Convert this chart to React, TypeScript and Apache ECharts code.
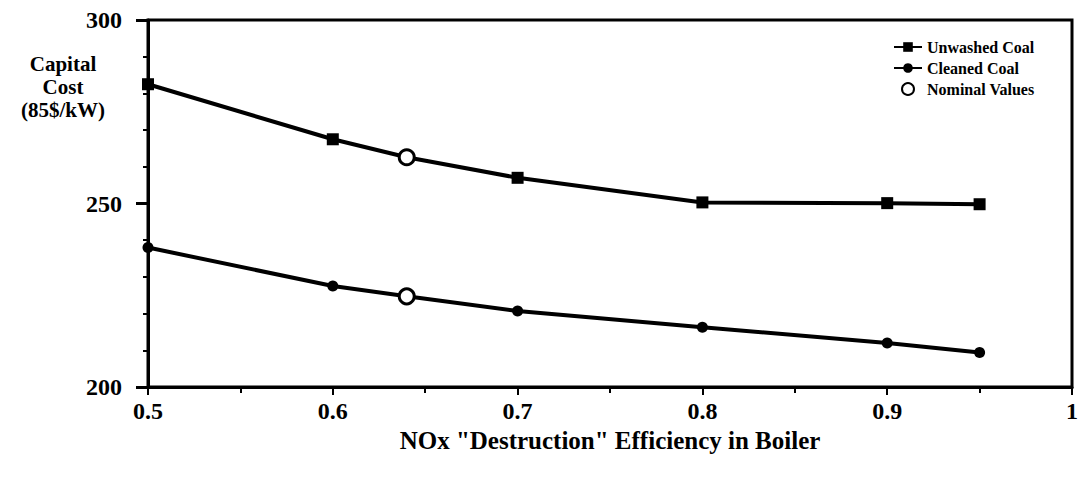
import React, { useEffect, useRef } from "react";
import * as echarts from "echarts";

const efficiency = [0.5, 0.6, 0.64, 0.7, 0.8, 0.9, 0.95];
const unwashedCoal = [282.5, 267.5, 262.6, 257, 250.3, 250.1, 249.8];
const cleanedCoal = [238, 227.5, 224.7, 220.7, 216.3, 212, 209.4];
const nominalX = [0.64, 0.64];
const nominalY = [262.6, 224.7];
const yTicks = [200, 250, 300];
const xName = 'NOx "Destruction" Efficiency in Boiler';
const yName = "Capital\nCost\n(85$/kW)";

const FONT = "'Liberation Serif', 'DejaVu Serif', serif";

export default function App() {
  const ref = useRef<HTMLDivElement>(null);
  useEffect(() => {
    if (!ref.current) return;
    const chart = echarts.init(ref.current, undefined, { renderer: "svg" });
    const mk = (ys: number[]) =>
      efficiency.map((x, i) => ({
        value: [x, ys[i]],
        symbol: x === 0.64 ? "none" : undefined,
      }));
    chart.setOption({
      animation: false,
      backgroundColor: "#ffffff",
      textStyle: { fontFamily: FONT },
      grid: {
        left: 148,
        right: 8,
        top: 20,
        bottom: 93,
        show: true,
        borderColor: "#000",
        borderWidth: 3,
      },
      legend: {
        orient: "vertical",
        left: 888,
        top: 34,
        itemWidth: 28,
        itemHeight: 12,
        itemGap: 5,
        textStyle: {
          fontFamily: FONT,
          fontWeight: "bold",
          fontSize: 16,
          color: "#000",
        },
        data: ["Unwashed Coal", "Cleaned Coal", "Nominal Values"],
      },
      xAxis: {
        type: "value",
        min: 0.5,
        max: 1,
        interval: 0.1,
        name: xName,
        nameLocation: "middle",
        nameGap: 37,
        nameTextStyle: {
          fontFamily: FONT,
          fontWeight: "bold",
          fontSize: 25,
          color: "#000",
        },
        axisLine: { lineStyle: { color: "#000", width: 3 } },
        axisTick: { show: true, length: 8, lineStyle: { color: "#000", width: 2 } },
        minorTick: { show: true, splitNumber: 2, length: 6, lineStyle: { color: "#000", width: 2 } },
        splitLine: { show: false },
        axisLabel: {
          fontFamily: FONT,
          fontWeight: "bold",
          fontSize: 24,
          color: "#000",
          margin: 12,
          formatter: (v: number) => (Math.abs(v - 1) < 1e-9 ? "1" : v.toFixed(1)),
        },
      },
      yAxis: {
        type: "value",
        min: yTicks[0],
        max: yTicks[yTicks.length - 1],
        interval: 50,
        axisLine: { show: true, lineStyle: { color: "#000", width: 3 } },
        axisTick: { show: true, length: 12, lineStyle: { color: "#000", width: 3 } },
        minorTick: { show: true, splitNumber: 5, length: 5, lineStyle: { color: "#000", width: 2 } },
        splitLine: { show: false },
        axisLabel: {
          fontFamily: FONT,
          fontWeight: "bold",
          fontSize: 24,
          color: "#000",
          margin: 26,
        },
      },
      graphic: [
        {
          type: "text",
          x: 63,
          y: 52,
          style: {
            text: yName,
            fontFamily: FONT,
            fontWeight: "bold",
            fontSize: 21,
            lineHeight: 23,
            fill: "#000",
            align: "center",
            verticalAlign: "top",
          },
        },
      ],
      series: [
        {
          name: "Unwashed Coal",
          type: "line",
          data: mk(unwashedCoal),
          symbol: "rect",
          symbolSize: 12,
          lineStyle: { color: "#000", width: 4 },
          itemStyle: { color: "#000" },
          z: 2,
        },
        {
          name: "Cleaned Coal",
          type: "line",
          data: mk(cleanedCoal),
          symbol: "circle",
          symbolSize: 11,
          lineStyle: { color: "#000", width: 4 },
          itemStyle: { color: "#000" },
          z: 2,
        },
        {
          name: "Nominal Values",
          type: "scatter",
          data: nominalX.map((x, i) => [x, nominalY[i]]),
          symbol: "circle",
          symbolSize: 15,
          itemStyle: { color: "#fff", borderColor: "#000", borderWidth: 3, opacity: 1 },
          z: 5,
        },
      ],
    });
    return () => chart.dispose();
  }, []);
  return (
    <div
      ref={ref}
      style={{ position: "fixed", left: 0, top: 0, width: 1081, height: 480, background: "#fff" }}
    />
  );
}
